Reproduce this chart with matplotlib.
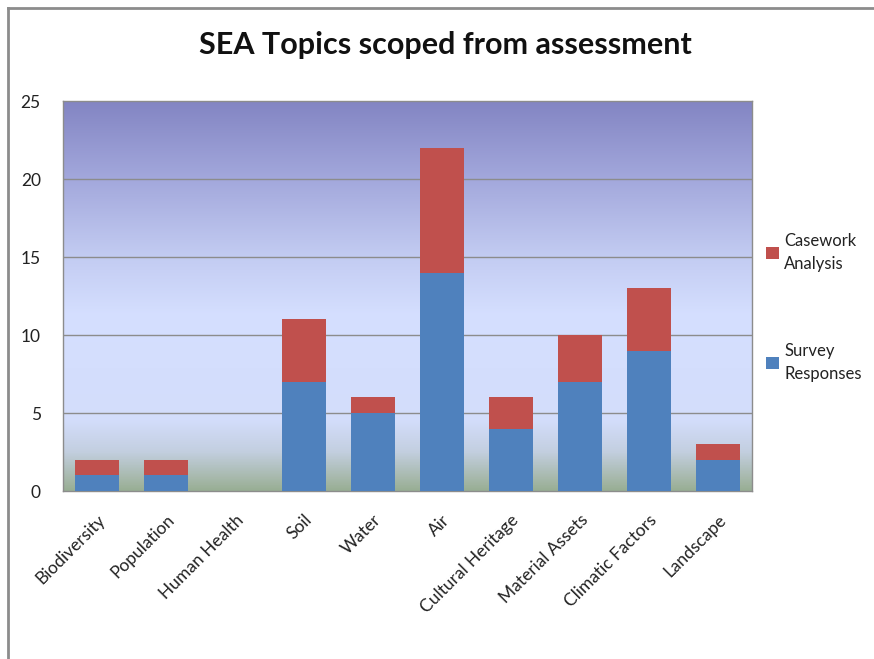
import matplotlib
matplotlib.use("Agg")
import matplotlib.pyplot as plt
import numpy as np
from matplotlib.colors import LinearSegmentedColormap
from matplotlib.lines import Line2D

categories = ["Biodiversity", "Population", "Human Health", "Soil", "Water", "Air",
              "Cultural Heritage", "Material Assets", "Climatic Factors", "Landscape"]
survey = [1, 1, 0, 7, 5, 14, 4, 7, 9, 2]
casework = [1, 1, 0, 4, 1, 8, 2, 3, 4, 1]
yticks = [0, 5, 10, 15, 20, 25]

plt.rcParams['font.family'] = ['Lato', 'DejaVu Sans']

W, H = 874, 659
fig = plt.figure(figsize=(W / 100, H / 100), dpi=100)
fig.patch.set_facecolor("white")

# frame lines (left and top)
fig.add_artist(Line2D([7.5 / W, 7.5 / W], [0, 1 - 7.5 / H], transform=fig.transFigure,
                      color="#8c8c8c", lw=2))
fig.add_artist(Line2D([7.5 / W, 1], [1 - 7.5 / H, 1 - 7.5 / H], transform=fig.transFigure,
                      color="#8c8c8c", lw=2))

x0, x1, y0, y1 = 63, 752, 101, 491
ax = fig.add_axes([x0 / W, 1 - y1 / H, (x1 - x0) / W, (y1 - y0) / H])

# gradient background
stops = [(0.0, "#98ae94"), (0.03, "#a6b8aa"), (0.10, "#c3cfe0"), (0.18, "#d3ddfb"),
         (0.45, "#d5dfff"), (0.60, "#c3ccf2"), (0.80, "#a3a8dc"), (1.0, "#8385c3")]
cmap = LinearSegmentedColormap.from_list("bg", stops)
grad = np.linspace(0, 1, 512).reshape(-1, 1)
ax.imshow(grad, cmap=cmap, origin="lower", aspect="auto",
          extent=[0, 1, 0, 1], transform=ax.transAxes, zorder=0)

x = np.arange(len(categories))
ax.bar(x, survey, width=0.64, color="#4f81bd", label="Survey\nResponses", zorder=3)
ax.bar(x, casework, width=0.64, bottom=survey, color="#c0504d",
       label="Casework\nAnalysis", zorder=3)

ax.set_xlim(-0.5, len(categories) - 0.5)
ax.set_ylim(0, 25)
ax.set_yticks(yticks)
ax.set_yticklabels([str(v) for v in yticks], fontsize=12.5, color="#222222")
ax.set_xticks(x)
ax.set_xticklabels(categories, rotation=45, ha="right", rotation_mode="anchor",
                   fontsize=12.5, color="#222222")
ax.tick_params(axis="x", length=0, pad=15)
ax.tick_params(axis="y", length=0, pad=16)
for v in yticks[1:-1]:
    ax.axhline(v, color="#8c8c8c", lw=1, zorder=1)
for s in ax.spines.values():
    s.set_color("#8c8c8c")
    s.set_linewidth(1)

fig.text(445 / W, 1 - 45 / H, "SEA Topics scoped from assessment", ha="center", va="center",
         fontsize=22, fontweight="bold", color="#111111")

handles, labels = ax.get_legend_handles_labels()
leg = fig.legend(handles[::-1], labels[::-1], loc="upper left",
                 bbox_to_anchor=(766 / W, 1 - 233 / H), frameon=False, fontsize=12,
                 labelspacing=4.25, handlelength=0.75, handleheight=0.75, handletextpad=0.35,
                 borderpad=0, borderaxespad=0)
for t in leg.get_texts():
    t.set_color("#222222")
    t.set_linespacing(1.55)

fig.savefig("out.png", dpi=100)
